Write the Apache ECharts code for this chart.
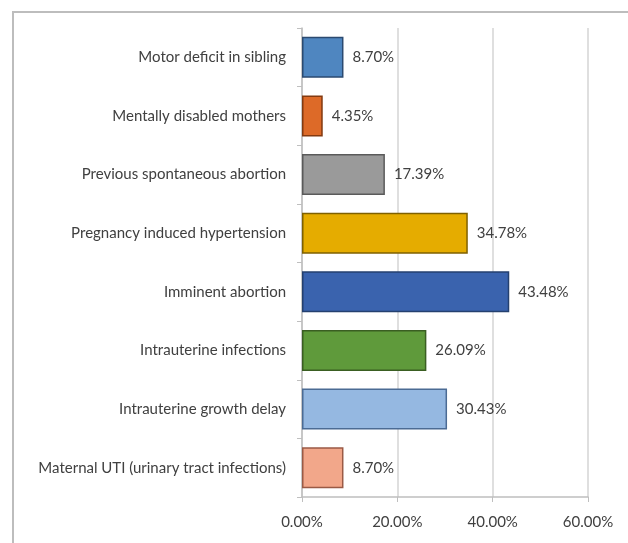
<!DOCTYPE html>
<html>
<head>
<meta charset="utf-8">
<script src="https://cdn.jsdelivr.net/npm/echarts@6/dist/echarts.min.js"></script>
<style>
  html, body { margin: 0; padding: 0; background: #fff; }
  #chart { width: 628px; height: 543px; }
</style>
</head>
<body>
<div id="chart"></div>
<script>
// 数据
const categories = [
  'Motor deficit in sibling',
  'Mentally disabled mothers',
  'Previous spontaneous abortion',
  'Pregnancy induced hypertension',
  'Imminent abortion',
  'Intrauterine infections',
  'Intrauterine growth delay',
  'Maternal UTI (urinary tract infections)'
]
const values = [8.70, 4.35, 17.39, 34.78, 43.48, 26.09, 30.43, 8.70]
const xTicks = [0, 20, 40, 60]

// 每根柱子的颜色和边框
const fills = ['#4f86c0', '#dd6a28', '#9a9a9a', '#e5ac00', '#3a63ae', '#5f9a3b', '#95b8e1', '#f2a78a']
const borders = ['#2b4a70', '#833a10', '#5a5a5a', '#7f6000', '#24406f', '#3a5e22', '#4b6b94', '#9a5a45']

const myChart = echarts.init(document.getElementById('chart'))
const option = {
  animation: false,
  textStyle: { fontFamily: 'Lato' },
  graphic: [
    {
      // 外框
      type: 'rect',
      shape: { x: 13, y: 12, width: 700, height: 600 },
      style: { fill: 'none', stroke: '#bdbdbd', lineWidth: 2 }
    }
  ],
  grid: {
    left: 302,
    right: 40,
    top: 28,
    bottom: 46
  },
  xAxis: {
    type: 'value',
    min: xTicks[0],
    max: xTicks[xTicks.length - 1],
    interval: 20,
    axisLine: { show: true, lineStyle: { color: '#bfbfbf', width: 1.5 } },
    axisTick: { show: true, length: 5, lineStyle: { color: '#bfbfbf' } },
    axisLabel: {
      color: '#404040',
      fontSize: 15,
      margin: 18,
      formatter: v => v.toFixed(2) + '%'
    },
    splitLine: { lineStyle: { color: '#d4d4d4', width: 1.5 } }
  },
  yAxis: {
    type: 'category',
    inverse: true,
    data: categories,
    axisLine: { show: true, lineStyle: { color: '#bfbfbf', width: 1.5 } },
    axisTick: { show: true, length: 5, lineStyle: { color: '#bfbfbf' } },
    axisLabel: { color: '#404040', fontSize: 15, margin: 16 }
  },
  series: [
    {
      type: 'bar',
      barWidth: 41,
      data: values.map((v, i) => ({
        value: v,
        itemStyle: {
          color: fills[i],
          borderColor: borders[i],
          borderWidth: 1.5
        }
      })),
      label: {
        show: true,
        position: 'right',
        distance: 9,
        color: '#404040',
        fontSize: 15,
        formatter: p => p.value.toFixed(2) + '%'
      }
    }
  ]
}
myChart.setOption(option)
</script>
</body>
</html>
